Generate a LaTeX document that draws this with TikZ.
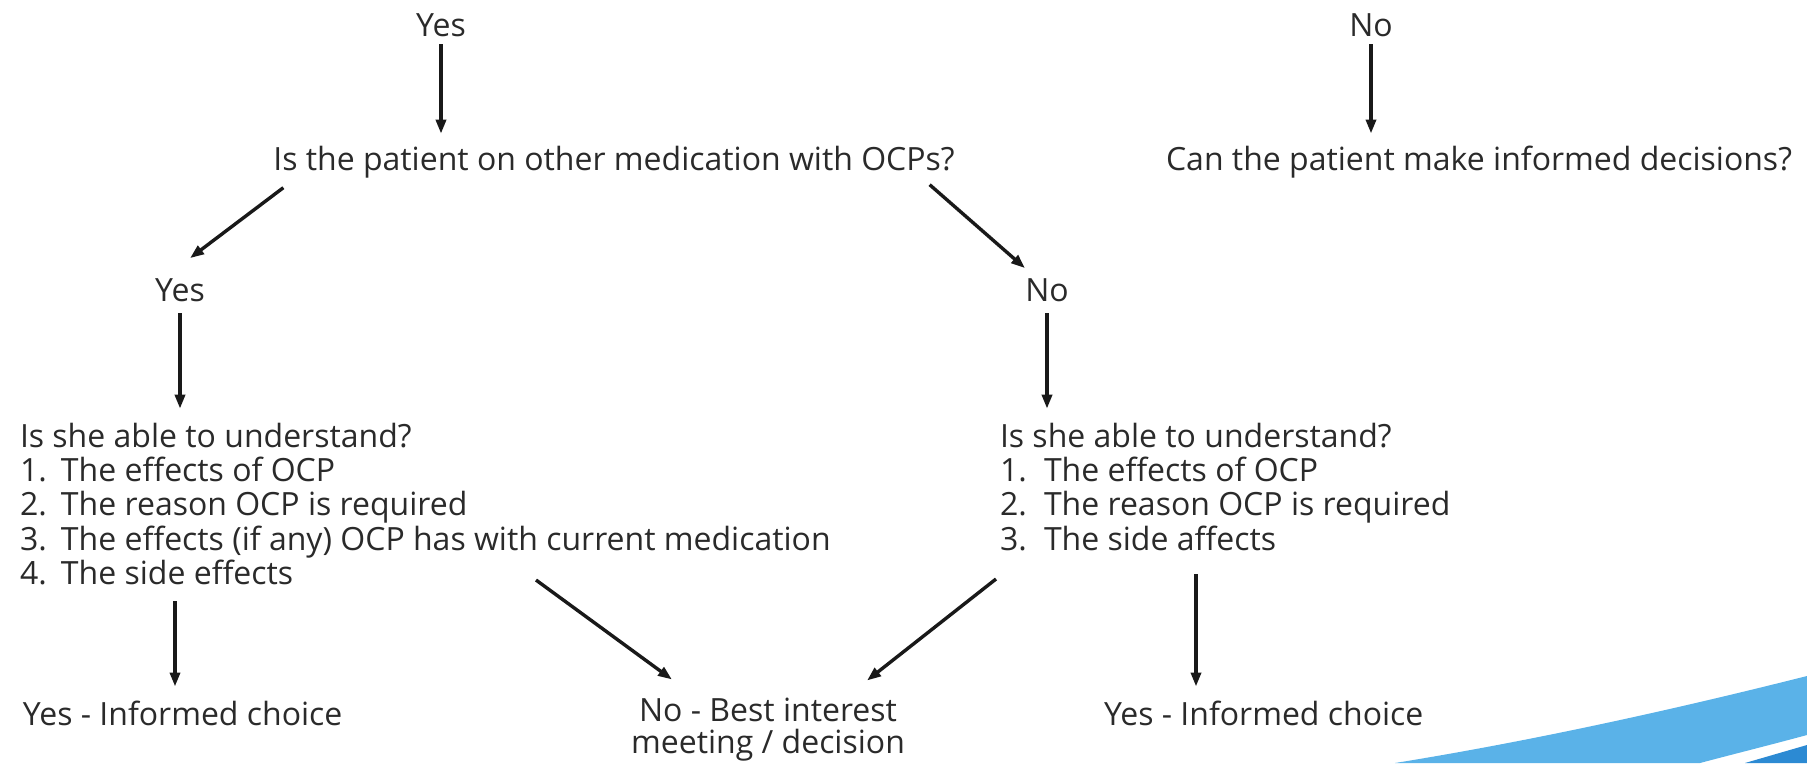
\documentclass[tikz,border=0pt]{standalone}
\usepackage{fontspec}
\setmainfont{Open Sans}
\usetikzlibrary{arrows.meta,calc}
\definecolor{textgray}{HTML}{2A2A2A}
\definecolor{swooshlight}{HTML}{5AB2E8}
\definecolor{swooshdark}{HTML}{2C8AD3}
\begin{document}
\begin{tikzpicture}[x=1pt,y=-1pt,
  txt/.style={inner sep=0pt, outer sep=0pt, text=textgray, font=\fontsize{32}{33.5}\selectfont},
  arr/.style={line width=3.4pt, draw=black!90, -{Triangle[length=14pt,width=10pt]}}]
\useasboundingbox (0,0) rectangle (1807,763);
% swoosh
\fill[swooshlight] (1395,763) .. controls (1550,738) and (1700,703) .. (1807,676) -- (1807,735) .. controls (1770,745) and (1730,755) .. (1700,763) -- cycle;
\fill[swooshdark] (1745,763) -- (1807,745) -- (1807,763) -- cycle;
% nodes
\node[txt, anchor=base] (yes0) at (441,36) {Yes};
\node[txt, anchor=base] (no0) at (1371,36) {No};
\node[txt, anchor=base] (q1) at (614,170) {Is the patient on other medication with OCPs?};
\node[txt, anchor=base] (q2) at (1479,170) {Can the patient make informed decisions?};
\node[txt, anchor=base] (yes1) at (180,301) {Yes};
\node[txt, anchor=base] (no1) at (1047,301) {No};
\node[txt, anchor=base west] (lq) at (20,447) {\begin{tabular}[t]{@{}l@{}}Is she able to understand?\\
\makebox[41pt][l]{1.}The effects of OCP\\
\makebox[41pt][l]{2.}The reason OCP is required\\
\makebox[41pt][l]{3.}The effects (if any) OCP has with current medication\\
\makebox[41pt][l]{4.}The side effects\end{tabular}};
\node[txt, anchor=base west] (rq) at (1000,447) {\begin{tabular}[t]{@{}l@{}}Is she able to understand?\\
\makebox[44pt][l]{1.}The effects of OCP\\
\makebox[44pt][l]{2.}The reason OCP is required\\
\makebox[44pt][l]{3.}The side affects\end{tabular}};
\node[txt, anchor=base west] (lres) at (23,725) {Yes - Informed choice};
\node[txt, anchor=base west] (rres) at (1104,725) {Yes - Informed choice};
\node[txt, anchor=base] (mid) at (768,721) {\begin{tabular}[t]{@{}c@{}}No - Best interest\\[-1.5pt] meeting / decision\end{tabular}};
% connectors
\draw[arr, shorten <=8pt, shorten >=12pt] (yes0.south) -- (yes0.south |- q1.north);
\draw[arr, shorten <=8pt, shorten >=12pt] (no0.south) -- (no0.south |- q2.north);
\draw[arr] ($(q1.south west)+(10,10)$) -- ($(yes1.north)+(10,-20)$);
\draw[arr] ($(q1.south east)+(-25,7)$) -- ($(no1.north)+(-22,-10)$);
\draw[arr, shorten <=12pt, shorten >=14pt] (yes1.south) -- (yes1.south |- lq.north);
\draw[arr, shorten <=12pt, shorten >=14pt] (no1.south) -- (no1.south |- rq.north);
\draw[arr, shorten <=6pt, shorten >=14pt] ([xshift=155pt]lq.south west) -- ([xshift=155pt]lq.south west |- lres.north);
\draw[arr, shorten <=14pt, shorten >=14pt] ([xshift=196pt]rq.south west) -- ([xshift=196pt]rq.south west |- rres.north);
\draw[arr] ($(lq.south west)+(516,-15)$) -- ($(mid.north)+(-96,-18)$);
\draw[arr] ($(rq.south west)+(-4,18.5)$) -- ($(mid.north)+(99,-17)$);
\end{tikzpicture}
\end{document}
